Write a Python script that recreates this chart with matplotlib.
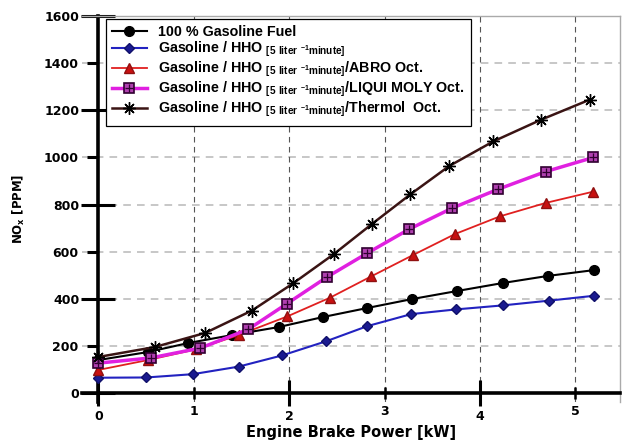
import matplotlib
matplotlib.use('Agg')
import matplotlib.pyplot as plt
from matplotlib.ticker import FixedLocator
from matplotlib.legend_handler import HandlerTuple

plt.rcParams['font.family'] = 'Liberation Sans'
plt.rcParams['font.weight'] = 'bold'
plt.rcParams['mathtext.fontset'] = 'custom'
plt.rcParams['mathtext.rm'] = 'Liberation Sans'
plt.rcParams['mathtext.bf'] = 'Liberation Sans:bold'

# engine brake power [kW] read per series
x_gas = [0, 0.52, 0.94, 1.40, 1.89, 2.36, 2.82, 3.29, 3.76, 4.24, 4.71, 5.20]
x_hho = [0, 0.50, 0.99, 1.47, 1.93, 2.39, 2.82, 3.28, 3.75, 4.24, 4.72, 5.20]
x_abro = [0, 0.52, 1.02, 1.47, 1.98, 2.43, 2.86, 3.30, 3.74, 4.21, 4.69, 5.19]
x_liqui = [0, 0.55, 1.07, 1.57, 1.98, 2.40, 2.82, 3.26, 3.71, 4.19, 4.69, 5.19]
x_thermol = [0, 0.59, 1.12, 1.61, 2.04, 2.47, 2.87, 3.27, 3.68, 4.14, 4.64, 5.15]

# NOx [PPM]
nox_gas = [140, 174, 212, 246, 280, 323, 361, 399, 433, 467, 497, 522]
nox_hho = [65, 66, 80, 112, 160, 220, 284, 335, 355, 372, 392, 413]
nox_abro = [98, 140, 185, 246, 325, 405, 495, 586, 675, 750, 807, 855]
nox_liqui = [127, 149, 191, 270, 380, 493, 594, 696, 785, 865, 940, 1000]
nox_thermol = [153, 195, 255, 350, 465, 590, 718, 843, 964, 1068, 1160, 1245]

sub = r'$_{\mathregular{[5\ liter\ ^{-1}minute]}}$'
labels = ['100 % Gasoline Fuel',
          'Gasoline / HHO ' + sub,
          'Gasoline / HHO ' + sub + '/ABRO Oct.',
          'Gasoline / HHO ' + sub + '/LIQUI MOLY Oct.',
          'Gasoline / HHO ' + sub + '/Thermol  Oct.']

fig = plt.figure(figsize=(6.22, 4.40), dpi=100)
ax = fig.add_axes([0.132, 0.0864, 0.865, 0.877])

l1, = ax.plot(x_gas, nox_gas, color='black', lw=1.5, marker='o', ms=7,
              mfc='black', mec='black', zorder=5)
l2, = ax.plot(x_hho, nox_hho, color='#2222c0', lw=1.5, marker='D', ms=5,
              mfc='#1a1a90', mec='#10106a', zorder=5)
l3, = ax.plot(x_abro, nox_abro, color='#e02020', lw=1.3, marker='^', ms=7,
              mfc='#c81010', mec='#901010', zorder=5)
l4, = ax.plot(x_liqui, nox_liqui, color='#e020e0', lw=2.5, marker='s', ms=7,
              mfc='#b040b0', mec='#300030', mew=1.2, zorder=5)
l4b, = ax.plot(x_liqui, nox_liqui, ls='none', marker='+', ms=6,
               mec='#300030', mew=0.9, zorder=6)
l5, = ax.plot(x_thermol, nox_thermol, color='#3a1414', lw=1.8, marker=(8, 2, 0),
              ms=9, mfc='#a0a0a0', mec='black', mew=1.0, zorder=5)

ax.set_xlim(-0.17, 5.47)
ax.set_ylim(-38, 1600)

ax.spines['left'].set_position(('data', 0))
ax.spines['bottom'].set_position(('data', 0))
ax.spines['left'].set_linewidth(2.6)
ax.spines['bottom'].set_linewidth(2.6)
for s in ['top', 'right']:
    ax.spines[s].set_color('#aaaaaa')
    ax.spines[s].set_linewidth(1.0)

ax.xaxis.set_major_locator(FixedLocator([0, 2, 4]))
ax.xaxis.set_minor_locator(FixedLocator([1, 3, 5]))
ax.yaxis.set_major_locator(FixedLocator([0, 400, 800, 1200, 1600]))
ax.yaxis.set_minor_locator(FixedLocator([200, 600, 1000, 1400]))
ax.xaxis.set_minor_formatter(plt.FuncFormatter(lambda v, p: '%d' % v))
ax.yaxis.set_minor_formatter(plt.FuncFormatter(lambda v, p: '%d' % v))

ax.tick_params(axis='y', which='major', direction='inout', length=24, width=2.2,
               labelsize=9, pad=1.5)
ax.tick_params(axis='y', which='minor', direction='out', length=8, width=2.2,
               labelsize=9, pad=6.5)
ax.tick_params(axis='x', which='major', direction='inout', length=19, width=2.2,
               labelsize=9, pad=3)
ax.tick_params(axis='x', which='minor', direction='inout', length=9, width=1.8,
               labelsize=9, pad=4)
for lab in ax.get_xticklabels(which='both') + ax.get_yticklabels(which='both'):
    lab.set_family('DejaVu Sans')
    lab.set_fontweight('bold')

for yv in [200, 400, 600, 800, 1000, 1200, 1400]:
    ax.axhline(yv, color='#b8b8b8', lw=1.1, ls=(0, (5, 4)), zorder=1)
for xv in [1, 2, 3, 4, 5]:
    ax.axvline(xv, color='#555555', lw=0.8, ls=(0, (5, 4)), zorder=1)

ax.set_xlabel('Engine Brake Power [kW]', fontsize=10.5, fontweight='bold',
              family='DejaVu Sans', labelpad=0)
ax.xaxis.set_label_coords(0.5, -0.06)
ax.set_ylabel(r'NO$_\mathregular{x}$ [PPM]', fontsize=8.5, fontweight='bold',
              family='DejaVu Sans')
ax.yaxis.set_label_coords(-0.102, 0.5)

leg = ax.legend([l1, l2, l3, (l4, l4b), l5], labels,
                handler_map={tuple: HandlerTuple(ndivide=1, pad=0)},
                loc='upper left', bbox_to_anchor=(0.044, 0.993),
                fontsize=10.3, handlelength=2.4, handletextpad=0.8,
                labelspacing=0.05, borderpad=0.45, borderaxespad=0,
                fancybox=False, framealpha=1, edgecolor='black')
leg.get_frame().set_linewidth(0.9)
leg.set_zorder(10)

fig.savefig('out.png', dpi=100)
